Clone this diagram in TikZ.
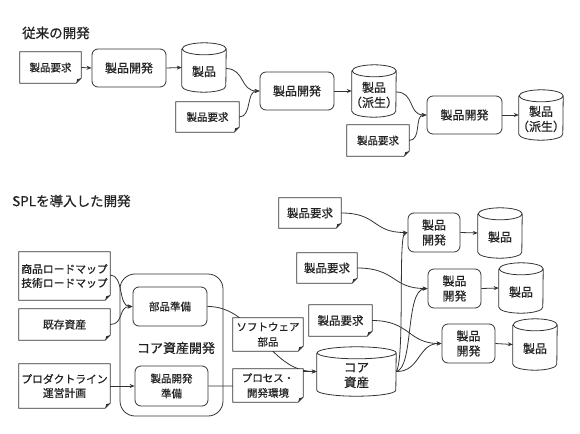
\documentclass[tikz,border=0pt]{standalone}
\usepackage{fontspec}
\setmainfont{Noto Sans CJK JP}[FakeBold=0.6]
\usetikzlibrary{arrows.meta,backgrounds}
\definecolor{ink}{HTML}{333333}
\definecolor{txtc}{HTML}{222222}
\tikzset{
  ln/.style={draw=ink, line width=0.8pt},
  arr/.style={ln, -{Stealth[length=5pt,width=4pt]}},
  pbox/.style={draw=ink, line width=0.8pt, rounded corners=6pt, align=center, inner sep=0pt, text=txtc},
  docbox/.style={fill=white, inner sep=0pt, align=center, text=txtc},
  cylbox/.style={inner sep=0pt},
  cyltext/.style={inner sep=0pt, align=center, text=txtc},
  ttl/.style={font=\fontsize{13.5}{16}\selectfont, anchor=west, text=txtc, inner sep=0pt},
}
\newcommand\Doc[7]{%
  \node[docbox, minimum width=#4pt, minimum height=#5pt, font={#6}] (#1) at (#2,-#3) {#7};
  \draw[ln] (#1.north west) -- (#1.north east) -- ([yshift=5pt]#1.south east)
    -- ([xshift=-5pt]#1.south east) -- (#1.south west) -- cycle;
  \fill[ink] ([yshift=5pt]#1.south east) -- ([xshift=-5pt]#1.south east)
    -- ([xshift=-4pt,yshift=4pt]#1.south east) -- cycle;
}
\newcommand\Cyl[7]{%
  \node[cylbox, minimum width=#4pt, minimum height=#5pt] (#1) at (#2,-#3) {};
  \node[cyltext, font={#6}] (#1-t) at ([yshift=-4pt]#1.center) {#7};
  \pgfmathsetmacro\hw{#4/2}
  \draw[ln] ([yshift=-6pt]#1.north west) -- ([yshift=6pt]#1.south west)
    arc[start angle=180, end angle=360, x radius=\hw pt, y radius=6pt]
    -- ([yshift=-6pt]#1.north east)
    arc[start angle=0, end angle=360, x radius=\hw pt, y radius=6pt];
}
\newcommand\fA{\fontsize{12}{15}\selectfont}
\newcommand\fB{\fontsize{10.5}{13}\selectfont}
\newcommand\fC{\fontsize{10.8}{14}\selectfont}
\newcommand\fD{\fontsize{10.5}{15}\selectfont}
\newcommand\fE{\fontsize{11.5}{14}\selectfont}
\newcommand\fF{\fontsize{12.5}{15}\selectfont}
\begin{document}
\begin{tikzpicture}[x=1pt, y=1pt]
\useasboundingbox (0,0) rectangle (580,-433);

% ---------- top section ----------
\node[ttl] (t1) at (22,-33) {従来の開発};
\Doc{d1}{50.5}{67.5}{61}{31}{\fB}{製品要求}
\node[pbox, minimum width=74pt, minimum height=38pt, font=\fA] (b1) at (129,-68) {製品開発};
\Cyl{c1}{204}{67.5}{44}{49}{\fA}{製品}
\node[pbox, minimum width=74pt, minimum height=38pt, font=\fA] (b2) at (297,-91) {製品開発};
\Doc{d2}{207.5}{117}{63}{30}{\fB}{製品要求}
\Cyl{c2}{374}{91}{44}{52}{\fA}{製品\\（派生）}
\node[pbox, minimum width=75pt, minimum height=38pt, font=\fA] (b3) at (464.5,-115) {製品開発};
\Doc{d3}{378}{140.5}{62}{31}{\fB}{製品要求}
\Cyl{c3}{541}{115}{44}{50}{\fA}{製品\\（派生）}

% ---------- bottom section ----------
\node[ttl] (t2) at (12,-201) {SPLを導入した開発};
\Doc{rm}{64.5}{276}{91}{48}{\fC}{商品ロードマップ\\技術ロードマップ}
\Doc{ka}{64.5}{324.5}{91}{31}{\fC}{既存資産}
\Doc{pl}{64.5}{386}{91}{44}{\fC}{プロダクトライン\\運営計画}
\node[pbox, rounded corners=15pt, minimum width=103pt, minimum height=142pt] (cd) at (171.5,-345) {};
\node[inner sep=0pt, text=txtc, font=\fontsize{13}{15}\selectfont] (cdl) at (176,-348) {コア資産開発};
\node[pbox, minimum width=74pt, minimum height=39pt, font=\fD] (bj) at (170,-306.5) {部品準備};
\node[pbox, minimum width=73pt, minimum height=40pt, font=\fD] (sj) at (171.5,-386) {製品開発\\準備};
\Doc{sw}{268}{334.5}{70}{33}{\fD}{ソフトウェア\\部品}
\Doc{pr}{268}{385.5}{70}{33}{\fD}{プロセス・\\開発環境}
\Cyl{core}{356.5}{371.5}{79}{49}{\fF}{コア\\資産}

\Doc{r1d}{310}{213}{62}{30}{\fE}{製品要求}
\node[pbox, minimum width=52pt, minimum height=39pt, font=\fA] (r1b) at (434,-232.5) {製品\\開発};
\Cyl{r1c}{500}{233}{44}{50}{\fA}{製品}
\Doc{r2d}{327}{268}{60}{30}{\fE}{製品要求}
\node[pbox, minimum width=53pt, minimum height=39pt, font=\fA] (r2b) at (454.5,-288.5) {製品\\開発};
\Cyl{r2c}{521}{288}{44}{50}{\fA}{製品}
\Doc{r3d}{340.5}{320.5}{63}{31}{\fE}{製品要求}
\node[pbox, minimum width=53pt, minimum height=39pt, font=\fA] (r3b) at (468.5,-343.5) {製品\\開発};
\Cyl{r3c}{535}{344.5}{44}{51}{\fA}{製品}

% ---------- connectors ----------
\begin{scope}[on background layer]
  \draw[arr] (d1.east) -- (b1.west);
  \draw[arr] (b1.east) -- (c1.west);
  \draw[arr] ([yshift=-1pt]c1.east) .. controls (245,-69) and (240,-91) .. (b2.west);
  \draw[arr] (d2.east) .. controls (252,-117) and (246,-91) .. (b2.west);
  \draw[arr] (b2.east) -- (c2.west);
  \draw[arr] ([yshift=-1pt]c2.east) .. controls (415,-92) and (408,-115) .. (b3.west);
  \draw[arr] (d3.east) .. controls (422,-140) and (414,-115) .. (b3.west);
  \draw[arr] (b3.east) -- (c3.west);

  \draw[arr] ([yshift=1pt]rm.east) .. controls (124,-275) and (118,-306.5) .. (bj.west);
  \draw[arr] (ka.east) .. controls (124,-324.5) and (118,-306.5) .. (bj.west);
  \draw[arr] (pl.east) -- (sj.west);
  \draw[arr] (bj.east) .. controls (255,-306) and (268,-371.5) .. (core.west);
  \draw[arr] (sj.east) -- (250,-386) .. controls (275,-386) and (278,-371.5) .. (300,-371.5) -- (core.west);

  \draw[arr] (r1d.east) .. controls (378,-213) and (372,-232.5) .. (r1b.west);
  \draw[arr] (core.east) .. controls (405,-360) and (398,-236) .. (r1b.west);
  \draw[arr] (r1b.east) -- (r1c.west);
  \draw[arr] (r2d.east) .. controls (396,-268) and (392,-288.5) .. (r2b.west);
  \draw[arr] (core.east) .. controls (414,-368) and (405,-290) .. (r2b.west);
  \draw[arr] (r2b.east) -- (r2c.west);
  \draw[arr] (r3d.east) .. controls (410,-320.5) and (408,-343.5) .. (r3b.west);
  \draw[arr] (core.east) .. controls (420,-372) and (418,-343.5) .. (r3b.west);
  \draw[arr] (r3b.east) -- (r3c.west);
\end{scope}
\end{tikzpicture}
\end{document}
